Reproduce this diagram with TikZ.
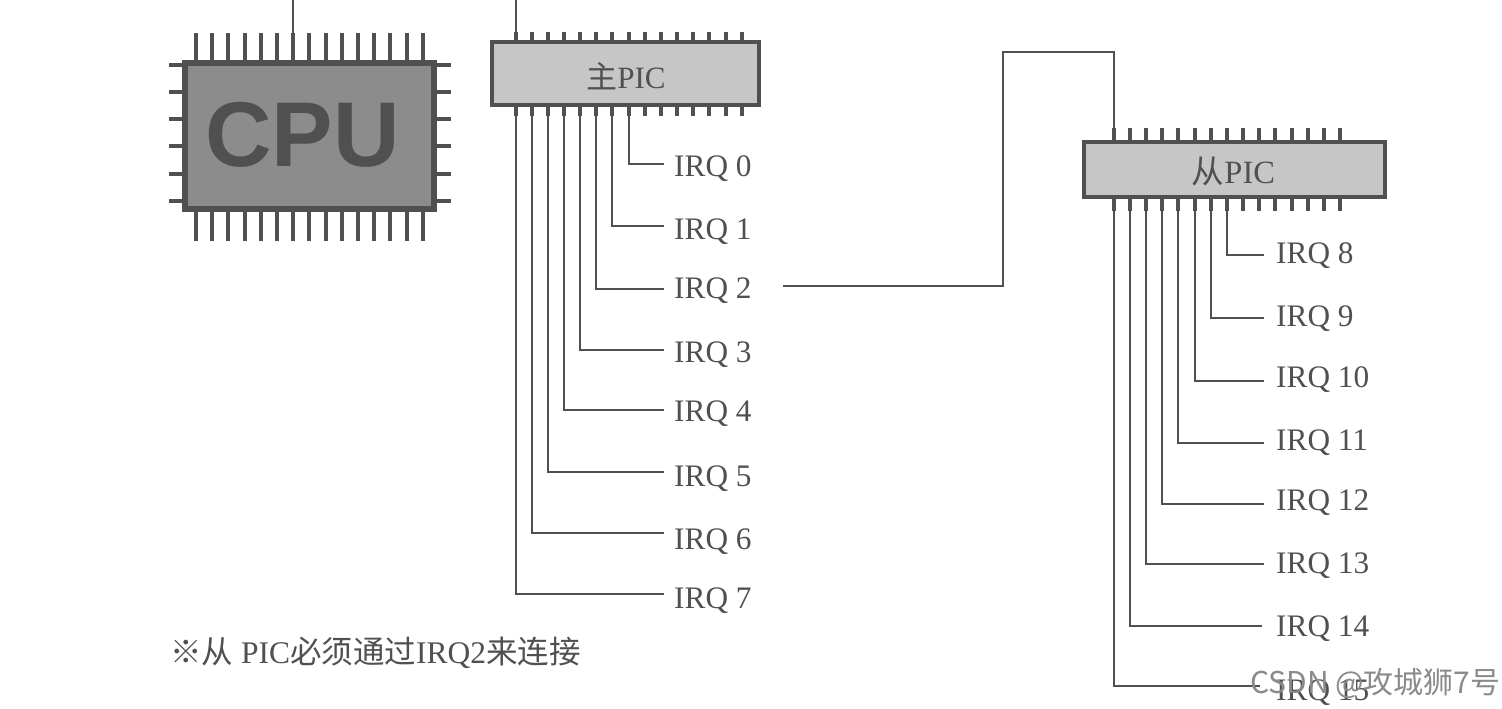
\documentclass[tikz,border=0pt]{standalone}
\usepackage{fontspec}
\usepackage{tikz}
\usepackage{xcolor}
\setmainfont{Liberation Serif}
\newfontfamily\cjkfont{Noto Sans CJK SC}
\newfontfamily\cpufont{Liberation Sans}
\definecolor{inkgray}{HTML}{505050}
\definecolor{cpugray}{HTML}{8C8C8C}
\definecolor{picgray}{HTML}{C6C6C6}
\definecolor{marktext}{HTML}{8A8A8A}
\tikzset{
  wire/.style={draw=inkgray,line width=1.8pt},
  pin/.style={draw=inkgray,line width=4.2pt},
  cpupin/.style={draw=inkgray,line width=4.6pt},
  irqlabel/.style={anchor=base west,inner sep=0pt,text=inkgray,font=\fontsize{31.3}{31.3}\selectfont},
  picbox/.style={draw=inkgray,line width=4pt,fill=picgray,inner sep=0pt},
  pictext/.style={inner sep=0pt,text=inkgray,font=\fontsize{31}{31}\selectfont}
}

\begin{document}
\begin{tikzpicture}[x=1pt,y=-1pt]
\useasboundingbox (0,0) rectangle (1502,709);
\fill[white] (0,0) rectangle (1502,709);
% CPU
\draw[cpupin] (196,33) -- (196,241) (212,33) -- (212,241) (228,33) -- (228,241) (245,33) -- (245,241) (261,33) -- (261,241);
\draw[cpupin] (277,33) -- (277,241) (293,33) -- (293,241) (309,33) -- (309,241) (326,33) -- (326,241) (342,33) -- (342,241);
\draw[cpupin] (358,33) -- (358,241) (374,33) -- (374,241) (390,33) -- (390,241) (407,33) -- (407,241) (423,33) -- (423,241);
\draw[cpupin] (169,65) -- (451,65) (169,92) -- (451,92) (169,119) -- (451,119);
\draw[cpupin] (169,146) -- (451,146) (169,174) -- (451,174) (169,201) -- (451,201);
\node[draw=inkgray,line width=6pt,fill=cpugray,minimum width=249pt,minimum height=146pt,inner sep=0pt] (cpu) at (309.5,136) {};
\node[inner sep=0pt,text=inkgray,font=\cpufont\bfseries\fontsize{92}{92}\selectfont] (cputext) at (302.5,135) {CPU};
\coordinate (cputop) at (293,0);
\coordinate (cpupin) at (293,33);
\draw[wire] (cputop) -- (cpupin);
% main PIC
\draw[pin] (516,32) -- (516,116) (532,32) -- (532,116) (548,32) -- (548,116) (564,32) -- (564,116) (580,32) -- (580,116);
\draw[pin] (596,32) -- (596,116) (612,32) -- (612,116) (629,32) -- (629,116) (645,32) -- (645,116) (661,32) -- (661,116);
\draw[pin] (677,32) -- (677,116) (693,32) -- (693,116) (709,32) -- (709,116) (726,32) -- (726,116) (742,32) -- (742,116);
\node[picbox,minimum width=267pt,minimum height=62pt] (mainpic) at (625,73.5) {};
\node[pictext] (maintext) at (626,76) {{\cjkfont 主}PIC};
\coordinate (maintop) at (516,0);
\coordinate (mainpin) at (516,32);
\draw[wire] (maintop) -- (mainpin);
\node[irqlabel] (irq0) at (674,176) {IRQ 0};
\node[irqlabel] (irq1) at (674,239) {IRQ 1};
\node[irqlabel] (irq2) at (674,298) {IRQ 2};
\node[irqlabel] (irq3) at (674,362) {IRQ 3};
\node[irqlabel] (irq4) at (674,421) {IRQ 4};
\node[irqlabel] (irq5) at (674,486) {IRQ 5};
\node[irqlabel] (irq6) at (674,549) {IRQ 6};
\node[irqlabel] (irq7) at (674,608) {IRQ 7};
\coordinate (p0) at (629,116); \coordinate (e0) at (664,164);
\coordinate (p1) at (612,116); \coordinate (e1) at (664,226);
\coordinate (p2) at (596,116); \coordinate (e2) at (664,289);
\coordinate (p3) at (580,116); \coordinate (e3) at (664,350);
\coordinate (p4) at (564,116); \coordinate (e4) at (664,410);
\coordinate (p5) at (548,116); \coordinate (e5) at (664,472);
\coordinate (p6) at (532,116); \coordinate (e6) at (664,533);
\coordinate (p7) at (516,116); \coordinate (e7) at (664,594);
\draw[wire] (p0) |- (e0);
\draw[wire] (p1) |- (e1);
\draw[wire] (p2) |- (e2);
\draw[wire] (p3) |- (e3);
\draw[wire] (p4) |- (e4);
\draw[wire] (p5) |- (e5);
\draw[wire] (p6) |- (e6);
\draw[wire] (p7) |- (e7);
% slave PIC
\draw[pin] (1114,128) -- (1114,211) (1130,128) -- (1130,211) (1146,128) -- (1146,211) (1162,128) -- (1162,211) (1178,128) -- (1178,211);
\draw[pin] (1195,128) -- (1195,211) (1211,128) -- (1211,211) (1227,128) -- (1227,211) (1243,128) -- (1243,211) (1259,128) -- (1259,211);
\draw[pin] (1275,128) -- (1275,211) (1292,128) -- (1292,211) (1308,128) -- (1308,211) (1324,128) -- (1324,211) (1340,128) -- (1340,211);
\node[picbox,minimum width=301pt,minimum height=55pt] (slavepic) at (1234,169) {};
\node[pictext,font=\fontsize{32.5}{32.5}\selectfont] (slavetext) at (1233.5,171) {{\cjkfont 从}PIC};
\node[irqlabel] (irq8) at (1276,263) {IRQ 8};
\node[irqlabel] (irq9) at (1276,326) {IRQ 9};
\node[irqlabel] (irq10) at (1276,387) {IRQ 10};
\node[irqlabel] (irq11) at (1276,450) {IRQ 11};
\node[irqlabel] (irq12) at (1276,510) {IRQ 12};
\node[irqlabel] (irq13) at (1276,573) {IRQ 13};
\node[irqlabel] (irq14) at (1276,636) {IRQ 14};
\node[irqlabel] (irq15) at (1276,700) {IRQ 15};
\coordinate (p8) at (1227,211); \coordinate (e8) at (1264,255);
\coordinate (p9) at (1211,211); \coordinate (e9) at (1264,318);
\coordinate (p10) at (1195,211); \coordinate (e10) at (1264,381);
\coordinate (p11) at (1178,211); \coordinate (e11) at (1264,443);
\coordinate (p12) at (1162,211); \coordinate (e12) at (1264,504);
\coordinate (p13) at (1146,211); \coordinate (e13) at (1264,564);
\coordinate (p14) at (1130,211); \coordinate (e14) at (1262,626);
\coordinate (p15) at (1114,211); \coordinate (e15) at (1260,686);
\draw[wire] (p8) |- (e8);
\draw[wire] (p9) |- (e9);
\draw[wire] (p10) |- (e10);
\draw[wire] (p11) |- (e11);
\draw[wire] (p12) |- (e12);
\draw[wire] (p13) |- (e13);
\draw[wire] (p14) |- (e14);
\draw[wire] (p15) |- (e15);
% link between the two PICs
\coordinate (linkstart) at (783,286);
\coordinate (slavepin) at (1114,128);
\draw[wire] (linkstart) -- (1003,286) -- (1003,52) -- (1114,52) -- (slavepin);
% note and watermark
\node[anchor=base west,inner sep=0pt,text=inkgray,font=\fontsize{31.5}{31.5}\selectfont] (note) at (170,663) {{\cjkfont ※从} PIC{\cjkfont 必须通过}IRQ2{\cjkfont 来连接}};
\node[anchor=base west,inner sep=0pt,text=marktext,font=\cjkfont\fontsize{30}{30}\selectfont] (watermark) at (1250,693) {CSDN @攻城狮7号};
\end{tikzpicture}
\end{document}
